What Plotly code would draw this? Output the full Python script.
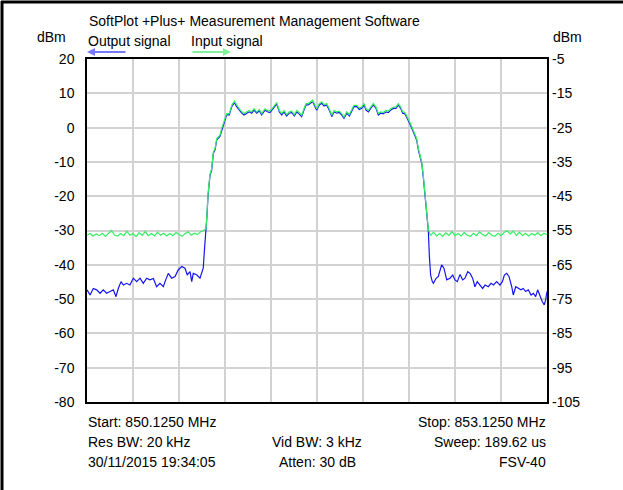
import plotly.graph_objects as go

# ---------------- data ----------------
# Output signal (left axis, dBm)
output_freq_mhz = [
    850.125, 850.145, 850.166, 850.188, 850.210, 850.231, 850.253, 850.275, 850.297, 850.314,
    850.329, 850.347, 850.362, 850.384, 850.405, 850.427, 850.449, 850.471, 850.492, 850.514,
    850.536, 850.558, 850.579, 850.601, 850.623, 850.634, 850.655, 850.677, 850.699, 850.720,
    850.743, 850.764, 850.779, 850.797, 850.808, 850.818, 850.840, 850.862, 850.883, 850.890,
    850.901, 850.907, 850.914, 850.927, 850.938, 850.949, 850.960, 850.971, 850.992, 851.003,
    851.019, 851.036, 851.053, 851.069, 851.086, 851.101, 851.118, 851.134, 851.149, 851.167,
    851.183, 851.199, 851.214, 851.232, 851.249, 851.264, 851.286, 851.301, 851.318, 851.340,
    851.362, 851.379, 851.395, 851.410, 851.427, 851.444, 851.460, 851.477, 851.493, 851.508,
    851.525, 851.540, 851.553, 851.568, 851.584, 851.597, 851.612, 851.623, 851.640, 851.656,
    851.671, 851.688, 851.705, 851.721, 851.736, 851.753, 851.770, 851.786, 851.801, 851.819,
    851.836, 851.851, 851.866, 851.884, 851.901, 851.916, 851.932, 851.945, 851.960, 851.975,
    851.992, 852.010, 852.025, 852.040, 852.057, 852.075, 852.090, 852.106, 852.123, 852.140,
    852.155, 852.171, 852.184, 852.199, 852.214, 852.232, 852.253, 852.275, 852.286, 852.297,
    852.308, 852.318, 852.329, 852.340, 852.351, 852.358, 852.366, 852.377, 852.384, 852.401,
    852.416, 852.438, 852.453, 852.471, 852.492, 852.510, 852.525, 852.540, 852.558, 852.575,
    852.590, 852.608, 852.623, 852.640, 852.655, 852.670, 852.688, 852.705, 852.721, 852.742,
    852.760, 852.775, 852.797, 852.818, 852.834, 852.847, 852.862, 852.877, 852.895, 852.905,
    852.921, 852.938, 852.955, 852.970, 852.986, 853.003, 853.021, 853.036, 853.051, 853.064,
    853.079, 853.094, 853.107, 853.116, 853.125,
]
output_dbm = [
    -47.3, -48.8, -46.9, -47.3, -48.3, -47.3, -48.3, -47.8, -47.3, -49.3,
    -46.9, -44.9, -45.9, -45.4, -45.9, -43.9, -44.9, -43.9, -45.4, -43.9,
    -44.4, -44.0, -46.4, -45.4, -46.4, -44.9, -42.5, -43.9, -43.4, -41.5,
    -40.5, -41.0, -42.9, -42.0, -44.9, -42.5, -42.9, -43.9, -41.0, -36.2,
    -30.3, -26.0, -20.0, -14.0, -12.4, -7.5, -6.5, -3.6, -2.6, -0.7,
    1.3, 3.7, 3.7, 6.1, 7.3, 6.1, 5.1, 4.2, 3.7, 4.2,
    4.6, 4.2, 5.1, 4.2, 4.9, 3.7, 5.1, 4.6, 4.4, 5.6,
    6.9, 4.6, 3.7, 4.6, 3.4, 4.2, 4.4, 3.4, 4.6, 4.0,
    3.2, 5.1, 6.6, 6.6, 7.1, 7.6, 6.1, 5.1, 6.6, 7.1,
    6.3, 6.6, 5.1, 3.2, 4.6, 4.2, 4.4, 3.7, 2.7, 4.2,
    3.4, 4.6, 6.1, 6.1, 5.3, 5.6, 6.6, 5.1, 4.6, 5.6,
    6.6, 5.6, 3.7, 4.2, 4.0, 4.6, 4.4, 5.1, 5.6, 5.6,
    6.6, 5.6, 4.2, 4.0, 2.7, 1.0, -1.2, -3.6, -6.5, -8.5,
    -10.4, -14.3, -19.2, -25.0, -30.0, -37.6, -43.0, -44.9, -45.4, -44.0,
    -43.4, -40.0, -41.0, -44.4, -43.9, -43.0, -44.4, -44.9, -42.8, -44.4,
    -43.9, -42.0, -42.5, -43.9, -46.4, -44.9, -45.9, -46.9, -45.9, -46.4,
    -45.4, -45.9, -44.9, -45.9, -44.9, -43.0, -42.5, -43.4, -46.4, -48.8,
    -46.4, -46.9, -47.3, -46.9, -47.8, -47.3, -48.8, -48.3, -49.3, -47.3,
    -49.3, -50.7, -51.7, -50.3, -47.8,
]

# Input signal (right axis, dBm)
input_freq_mhz = [
    850.125, 850.145, 850.165, 850.185, 850.205, 850.225, 850.245, 850.265, 850.285, 850.305,
    850.325, 850.345, 850.365, 850.385, 850.405, 850.425, 850.445, 850.465, 850.485, 850.505,
    850.525, 850.545, 850.565, 850.585, 850.605, 850.625, 850.645, 850.665, 850.685, 850.705,
    850.725, 850.745, 850.765, 850.785, 850.805, 850.825, 850.845, 850.865, 850.883, 850.894,
    850.901, 850.907, 850.914, 850.927, 850.938, 850.949, 850.960, 850.971, 850.992, 851.003,
    851.019, 851.036, 851.053, 851.069, 851.086, 851.101, 851.118, 851.134, 851.149, 851.167,
    851.183, 851.199, 851.214, 851.232, 851.249, 851.264, 851.286, 851.301, 851.318, 851.340,
    851.362, 851.379, 851.395, 851.410, 851.427, 851.444, 851.460, 851.477, 851.493, 851.508,
    851.525, 851.540, 851.553, 851.568, 851.584, 851.597, 851.612, 851.623, 851.640, 851.656,
    851.671, 851.688, 851.705, 851.721, 851.736, 851.753, 851.770, 851.786, 851.801, 851.819,
    851.836, 851.851, 851.866, 851.884, 851.901, 851.916, 851.932, 851.945, 851.960, 851.975,
    851.992, 852.010, 852.025, 852.040, 852.057, 852.075, 852.090, 852.106, 852.123, 852.140,
    852.155, 852.171, 852.184, 852.199, 852.214, 852.232, 852.253, 852.275, 852.286, 852.297,
    852.308, 852.318, 852.329, 852.340, 852.351, 852.365, 852.385, 852.405, 852.425, 852.445,
    852.465, 852.485, 852.505, 852.525, 852.545, 852.565, 852.585, 852.605, 852.625, 852.645,
    852.665, 852.685, 852.705, 852.725, 852.745, 852.765, 852.785, 852.805, 852.825, 852.845,
    852.865, 852.885, 852.905, 852.925, 852.945, 852.965, 852.985, 853.005, 853.025, 853.045,
    853.065, 853.085, 853.105, 853.125,
]
input_dbm = [
    -56.4, -55.9, -56.6, -56.0, -56.5, -55.8, -56.7, -55.7, -55.0, -56.4,
    -56.6, -55.9, -56.5, -55.2, -56.4, -55.9, -56.8, -55.6, -56.4, -55.3,
    -56.5, -55.9, -56.6, -55.5, -56.4, -55.8, -56.6, -55.9, -56.5, -55.6,
    -56.2, -56.7, -55.9, -55.4, -56.4, -55.8, -56.2, -55.4, -55.1, -54.6,
    -54.5, -50.6, -44.6, -38.6, -37.0, -32.1, -31.1, -28.2, -27.2, -25.3,
    -23.3, -20.9, -20.9, -18.5, -17.3, -18.5, -19.5, -20.4, -20.9, -20.4,
    -20.0, -20.4, -19.5, -20.4, -19.7, -20.9, -19.5, -20.0, -20.2, -19.0,
    -17.7, -20.0, -20.9, -20.0, -21.2, -20.4, -20.2, -21.2, -20.0, -20.6,
    -21.4, -19.5, -18.0, -18.0, -17.5, -17.0, -18.5, -19.5, -18.0, -17.5,
    -18.3, -18.0, -19.5, -21.4, -20.0, -20.4, -20.2, -20.9, -21.9, -20.4,
    -21.2, -20.0, -18.5, -18.5, -19.3, -19.0, -18.0, -19.5, -20.0, -19.0,
    -18.0, -19.0, -20.9, -20.4, -20.6, -20.0, -20.2, -19.5, -19.0, -19.0,
    -18.0, -19.0, -20.4, -20.6, -21.9, -23.6, -25.8, -28.2, -31.1, -33.1,
    -35.0, -38.9, -43.8, -49.6, -54.6, -56.5, -55.5, -56.6, -55.9, -56.7,
    -55.7, -56.4, -55.3, -56.5, -55.9, -56.6, -55.6, -56.4, -56.7, -55.8,
    -56.5, -55.4, -56.2, -56.6, -55.6, -56.4, -56.7, -55.8, -56.5, -55.6,
    -55.1, -56.0, -55.2, -56.4, -55.5, -56.5, -55.8, -56.6, -55.9, -56.4,
    -55.6, -56.5, -55.8, -56.2,
]

left_ticks = [20, 10, 0, -10, -20, -30, -40, -50, -60, -70, -80]
left_tick_labels = ["20", "10", "0", "-10", "-20", "-30", "-40", "-50", "-60", "-70", "-80"]
right_ticks = [-5, -15, -25, -35, -45, -55, -65, -75, -85, -95, -105]
right_tick_labels = ["-5", "-15", "-25", "-35", "-45", "-55", "-65", "-75", "-85", "-95", "-105"]

title_text = "SoftPlot +Plus+ Measurement Management Software"
series_names = ["Output signal", "Input signal"]
info_rows = [
    ["Start: 850.1250 MHz", "", "Stop: 853.1250 MHz"],
    ["Res BW: 20 kHz", "Vid BW: 3 kHz", "Sweep: 189.62 us"],
    ["30/11/2015 19:34:05", "Atten: 30 dB", "FSV-40"],
]

# ---------------- styling ----------------
W, H = 623, 490
ML, MR, MT, MB = 87, 76, 59, 88
PW, PH = W - ML - MR, H - MT - MB
FONT = "Liberation Sans, Arial, Helvetica, sans-serif"
BLUE = "#1414f0"
GREEN = "#33f060"


def px_x(px):
    return (px - ML) / PW


def px_y(py):
    return (H - MB - py) / PH


fig = go.Figure()
fig.add_trace(go.Scatter(x=output_freq_mhz, y=output_dbm, mode="lines",
                         line=dict(color=BLUE, width=1.2), name=series_names[0],
                         yaxis="y"))
fig.add_trace(go.Scatter(x=input_freq_mhz, y=input_dbm, mode="lines",
                         line=dict(color=GREEN, width=1.2), name=series_names[1],
                         yaxis="y2"))

tickfont = dict(family=FONT, size=14, color="black")
fig.update_layout(
    width=W, height=H,
    margin=dict(l=ML, r=MR, t=MT, b=MB, pad=0),
    paper_bgcolor="white", plot_bgcolor="white",
    showlegend=False,
    font=dict(family=FONT, size=14, color="black"),
    xaxis=dict(range=[850.125, 853.125], tick0=850.125, dtick=0.3,
               showticklabels=False, ticks="", showgrid=True,
               gridcolor="#d2d2d2", gridwidth=1.5, zeroline=False,
               showline=True, linecolor="black", linewidth=1.5, mirror=True),
    yaxis=dict(range=[-80, 20], tickvals=left_ticks, ticktext=left_tick_labels,
               ticks="", tickfont=tickfont, showgrid=True, gridcolor="#d2d2d2",
               gridwidth=1.5, zeroline=False, showline=True,
               linecolor="black", linewidth=1.5, mirror=True,
               ticklabelstandoff=8),
    yaxis2=dict(range=[-105, -5], tickvals=right_ticks, ticktext=right_tick_labels,
                ticks="", tickfont=tickfont, overlaying="y", side="right",
                showgrid=False, zeroline=False, showline=False,
                ticklabelstandoff=4),
)

ann = []
ann.append(dict(text=title_text, x=px_x(87), y=px_y(21), xref="paper", yref="paper",
                xanchor="left", yanchor="middle", showarrow=False,
                font=dict(family=FONT, size=14, color="black")))
ann.append(dict(text="dBm", x=px_x(35), y=px_y(37), xref="paper", yref="paper",
                xanchor="left", yanchor="middle", showarrow=False))
ann.append(dict(text="dBm", x=px_x(551), y=px_y(37), xref="paper", yref="paper",
                xanchor="left", yanchor="middle", showarrow=False))
ann.append(dict(text=series_names[0], x=px_x(86), y=px_y(41), xref="paper", yref="paper",
                xanchor="left", yanchor="middle", showarrow=False))
ann.append(dict(text=series_names[1], x=px_x(189), y=px_y(41), xref="paper", yref="paper",
                xanchor="left", yanchor="middle", showarrow=False))
# legend arrows
ann.append(dict(text="", x=px_x(87), y=px_y(52), xref="paper", yref="paper",
                ax=40, ay=0, showarrow=True, arrowhead=2, arrowsize=0.8,
                arrowwidth=2, arrowcolor="#7878ff", standoff=0))
ann.append(dict(text="", x=px_x(231), y=px_y(52), xref="paper", yref="paper",
                ax=-40, ay=0, showarrow=True, arrowhead=2, arrowsize=0.8,
                arrowwidth=2, arrowcolor="#80f29c", standoff=0))

row_y = [422, 442, 462]
for r, row in enumerate(info_rows):
    left, mid, right = row
    if left:
        ann.append(dict(text=left, x=px_x(86), y=px_y(row_y[r]), xref="paper", yref="paper",
                        xanchor="left", yanchor="middle", showarrow=False))
    if mid:
        ann.append(dict(text=mid, x=0.5, y=px_y(row_y[r]), xref="paper", yref="paper",
                        xanchor="center", yanchor="middle", showarrow=False))
    if right:
        ann.append(dict(text=right, x=px_x(548), y=px_y(row_y[r]), xref="paper", yref="paper",
                        xanchor="right", yanchor="middle", showarrow=False))
fig.update_layout(annotations=ann)

# outer frame (left and top edges)
fig.add_shape(type="line", xref="paper", yref="paper", layer="above",
              x0=px_x(2), x1=px_x(2), y0=px_y(1), y1=px_y(H),
              line=dict(color="black", width=3))
fig.add_shape(type="line", xref="paper", yref="paper", layer="above",
              x0=px_x(1), x1=px_x(W), y0=px_y(2), y1=px_y(2),
              line=dict(color="black", width=3))

# remove the default page margin so the figure sits at the window origin
fig.write_html("out.html",
               config={"displayModeBar": False},
               post_script="document.body.style.margin='0';document.body.style.overflow='hidden';")
